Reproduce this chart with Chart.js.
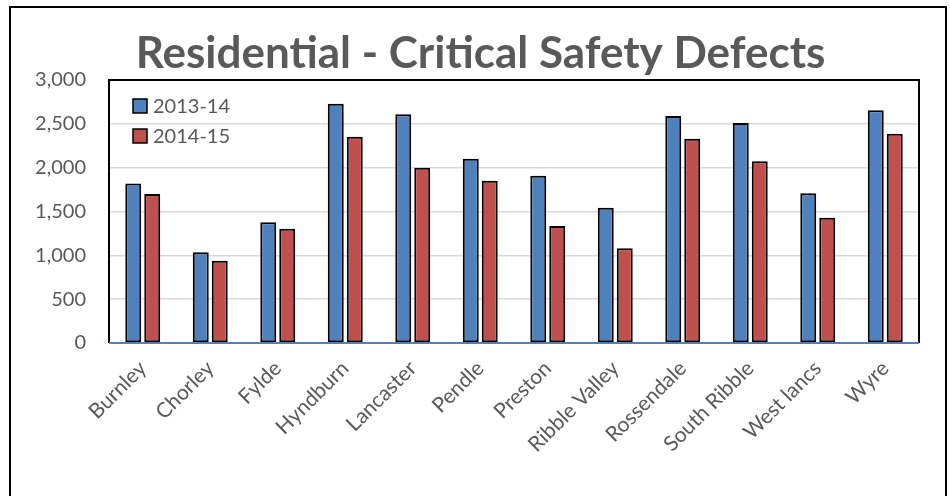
<!DOCTYPE html>
<html>
<head>
<meta charset="utf-8">
<script src="https://cdn.jsdelivr.net/npm/chart.js@4.4.0/dist/chart.umd.min.js"></script>
<style>
  html, body { margin: 0; padding: 0; background: #fff; }
  #frame { position: absolute; left: 9px; top: 6px; width: 934px; height: 500px; border: 2px solid #000; }
  #box { position: absolute; left: 0; top: 0; width: 950px; height: 496px; }
</style>
</head>
<body>
<div id="frame"></div>
<div id="box"><canvas id="chart"></canvas></div>
<script>
// données
const categories = ['Burnley', 'Chorley', 'Fylde', 'Hyndburn', 'Lancaster', 'Pendle', 'Preston',
    'Ribble Valley', 'Rossendale', 'South Ribble', 'West lancs', 'Wyre'];
const values1314 = [1820, 1035, 1377, 2730, 2608, 2103, 1909, 1544, 2589, 2510, 1707, 2654];
const values1415 = [1700, 939, 1304, 2353, 2000, 1852, 1335, 1080, 2331, 2072, 1430, 2388];
const yTicks = [0, 500, 1000, 1500, 2000, 2500, 3000];

const textColor = '#595959';
const font = 'Lato';

// cadre du graphique : noir en haut/gauche/droite, bleu en bas
const plotFrame = {
    id: 'plotFrame',
    afterDatasetsDraw(chart) {
        const { ctx, chartArea: a } = chart;
        ctx.save();
        ctx.lineWidth = 2;
        ctx.strokeStyle = '#000';
        ctx.beginPath();
        ctx.moveTo(a.left, a.bottom);
        ctx.lineTo(a.left, a.top);
        ctx.lineTo(a.right, a.top);
        ctx.lineTo(a.right, a.bottom);
        ctx.stroke();
        ctx.strokeStyle = '#4f81bd';
        ctx.beginPath();
        ctx.moveTo(a.left, a.bottom);
        ctx.lineTo(a.right, a.bottom);
        ctx.stroke();
        ctx.restore();
    }
};

// légende à l'intérieur, en haut à gauche
const innerLegend = {
    id: 'innerLegend',
    afterDatasetsDraw(chart) {
        const { ctx, chartArea: a } = chart;
        ctx.save();
        ctx.font = '20px ' + font;
        ctx.textBaseline = 'middle';
        ctx.textAlign = 'left';
        chart.data.datasets.forEach((ds, i) => {
            const x = a.left + 24;
            const y = a.top + 19 + i * 30;
            ctx.fillStyle = ds.backgroundColor;
            ctx.fillRect(x, y, 14, 14);
            ctx.lineWidth = 1.5;
            ctx.strokeStyle = '#000';
            ctx.strokeRect(x, y, 14, 14);
            ctx.fillStyle = textColor;
            ctx.fillText(ds.label, x + 20, y + 8);
        });
        ctx.restore();
    }
};

const ctx = document.getElementById('chart').getContext('2d');
new Chart(ctx, {
    type: 'bar',
    data: {
        labels: categories,
        datasets: [{
            label: '2013-14',
            data: values1314,
            backgroundColor: '#4f81bd',
            borderColor: '#000',
            borderWidth: 2,
            borderSkipped: false
        }, {
            label: '2014-15',
            data: values1415,
            backgroundColor: '#c0504d',
            borderColor: '#000',
            borderWidth: 2,
            borderSkipped: false
        }]
    },
    options: {
        responsive: true,
        maintainAspectRatio: false,
        animation: false,
        layout: { padding: { left: 21, right: 10, top: 0, bottom: 0 } },
        datasets: {
            bar: { categoryPercentage: 0.5625, barPercentage: 0.84 }
        },
        plugins: {
            title: {
                display: true,
                text: 'Residential - Critical Safety Defects',
                color: textColor,
                font: { family: font, size: 44, weight: 'bold', lineHeight: 1.2 },
                padding: { top: 27.2, bottom: 0 }
            },
            legend: { display: false },
            tooltip: { enabled: false }
        },
        scales: {
            x: {
                grid: { display: false, drawTicks: false },
                border: { display: false },
                ticks: {
                    color: textColor,
                    font: { family: font, size: 21 },
                    minRotation: 45,
                    maxRotation: 45,
                    autoSkip: false,
                    padding: 13
                },
                afterFit(scale) { scale.height = 153; }
            },
            y: {
                min: 0,
                max: 3000,
                grid: { color: '#d9d9d9', lineWidth: 1.5, drawTicks: false },
                border: { display: false },
                afterBuildTicks(scale) { scale.ticks = yTicks.map(v => ({ value: v })); },
                ticks: {
                    color: textColor,
                    font: { family: font, size: 20 },
                    padding: 23,
                    callback: v => v.toLocaleString('en-US')
                },
                afterFit(scale) { scale.width = 88; }
            },
            // marge à droite pour que le titre soit centré comme dans Excel
            yRight: {
                position: 'right',
                grid: { display: false, drawTicks: false },
                border: { display: false },
                ticks: { display: false },
                afterFit(scale) { scale.width = 21; }
            }
        }
    },
    plugins: [plotFrame, innerLegend]
});
</script>
</body>
</html>
